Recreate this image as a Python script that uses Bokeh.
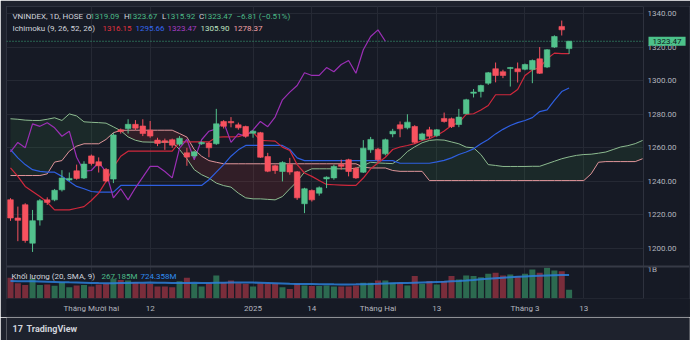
from bokeh.plotting import figure
from bokeh.layouts import column
from bokeh.models import (Range1d, FixedTicker, NumeralTickFormatter, Span, Label,
                          ColumnDataSource, BoxAnnotation)
from bokeh.embed import file_html
from bokeh.resources import INLINE

# ---------------- data ----------------
opens = [1229.1,1218.2,1226.1,1203.2,1217.0,1229.0,1229.0,1235.0,1240.9,1246.3,
         1242.0,1255.2,1251.7,1247.1,1241.4,1270.7,1271.5,1274.0,1273.0,1270.5,
         1264.6,1264.2,1264.8,1262.2,1257.0,1255.2,1262.4,1262.8,1262.4,1275.7,
         1275.7,1273.7,1272.7,1268.7,1269.0,1254.8,1249.3,1245.9,1250.1,1245.7,
         1226.7,1234.6,1233.0,1241.5,1242.1,1250.0,1252.9,1247.9,1245.5,1258.8,
         1259.2,1256.4,1268.3,1273.7,1271.9,1272.7,1265.0,1270.7,1267.3,1277.5,
         1277.3,1273.9,1280.3,1292.5,1293.5,1298.5,1307.1,1305.3,1307.2,1307.1,
         1306.8,1306.6,1313.0,1308.1,1320.0,1332.3,1319.09]
highs = [1230.0,1225.0,1227.0,1223.0,1229.5,1230.5,1235.5,1246.7,1245.3,1250.0,
         1252.0,1256.0,1254.3,1248.0,1269.0,1271.5,1277.0,1276.5,1277.0,1276.0,
         1266.0,1265.5,1265.5,1267.0,1260.0,1258.2,1263.8,1263.5,1283.2,1276.5,
         1278.3,1275.0,1273.2,1270.5,1269.5,1257.0,1250.0,1252.0,1254.0,1246.2,
         1236.2,1235.2,1237.0,1243.0,1250.0,1253.0,1253.5,1248.5,1264.6,1266.5,
         1260.0,1265.5,1271.3,1275.7,1280.0,1273.5,1269.0,1272.5,1271.2,1281.0,
         1278.0,1283.2,1289.2,1295.0,1297.6,1305.2,1310.8,1306.5,1308.2,1310.8,
         1310.2,1312.6,1320.0,1318.8,1327.0,1335.8,1323.67]
lows = [1216.5,1204.4,1203.5,1198.0,1213.7,1226.0,1228.2,1234.0,1240.2,1241.0,
        1241.4,1249.5,1245.3,1239.5,1239.0,1268.5,1268.5,1270.5,1267.0,1266.0,
        1261.0,1258.8,1260.0,1261.0,1249.3,1254.0,1261.8,1254.4,1261.8,1271.5,
        1272.2,1270.8,1266.0,1266.0,1254.0,1245.5,1244.5,1240.0,1244.0,1229.0,
        1221.1,1228.0,1231.5,1236.0,1241.0,1247.0,1243.0,1241.5,1245.0,1257.0,
        1251.5,1255.5,1266.3,1266.3,1271.0,1262.5,1264.2,1265.5,1266.5,1275.0,
        1271.8,1272.3,1280.0,1290.0,1290.0,1297.5,1299.0,1301.5,1296.5,1298.9,
        1306.2,1298.5,1304.0,1307.5,1319.5,1326.9,1315.92]
closes = [1218.2,1216.8,1204.8,1216.6,1228.5,1227.5,1234.7,1242.0,1241.8,1241.8,
          1250.3,1250.7,1249.3,1240.2,1267.7,1269.7,1274.0,1271.7,1268.5,1267.0,
          1262.6,1263.2,1261.6,1265.7,1254.5,1257.6,1263.2,1260.0,1274.3,1272.8,
          1274.9,1271.9,1266.9,1269.9,1254.4,1246.1,1246.5,1251.3,1245.6,1230.2,
          1235.6,1229.0,1236.2,1242.5,1248.9,1249.0,1245.9,1242.1,1259.8,1265.0,
          1252.9,1264.8,1269.9,1271.3,1275.3,1263.3,1268.3,1266.9,1270.7,1275.7,
          1272.6,1278.3,1288.6,1293.2,1297.1,1304.7,1303.1,1303.1,1307.8,1305.3,
          1309.6,1312.0,1304.4,1318.4,1326.3,1330.28,1323.47]
volume_m = [636,472,418,608,418,427,390,499,345,400,
            418,372,427,454,608,572,554,499,472,454,
            372,372,345,527,636,454,372,472,708,499,
            554,472,454,372,472,454,454,345,291,454,
            400,381,381,400,372,372,372,400,481,481,
            554,554,481,481,400,690,454,536,427,536,
            690,581,708,690,654,763,790,708,735,690,
            763,890,790,944,863,835,267.185]
volume_sma_m = [535,533,530,527,522,516,510,503,497,492,
                486,480,474,470,472,476,480,484,488,490,
                488,484,479,476,478,481,478,476,482,488,
                492,494,492,489,485,480,472,464,456,450,
                446,443,440,437,435,434,434,436,440,445,
                452,460,468,474,478,486,494,502,510,518,
                530,542,556,572,590,608,626,642,656,668,
                680,692,702,710,716,722,724.358]
tenkan = [1248,1243,1237,1234,1231,1227.6,1223,1223,1223,1224,
          1225,1228.6,1233,1240,1248.5,1255,1258,1258,1258,1258,
          1258,1258,1258,1263.5,1263.5,1263.5,1263.5,1263.5,1266.3,1266.5,
          1266.5,1266.7,1268,1269.3,1264.4,1264.2,1264,1260.4,1258.4,1250,
          1245,1243,1240.5,1238.2,1238,1237.8,1237.6,1237.6,1242,1247.5,
          1251,1254.4,1259,1260.5,1261.4,1262.5,1264.4,1265.5,1267.3,1270,
          1273.3,1275,1279.9,1280.3,1282.5,1285.2,1291.6,1291.6,1291.6,1294.7,
          1303.1,1306.4,1307.7,1313,1316.4,1316.15,1316.15]
kijun = [1259,1254,1250,1247,1246,1245.5,1245.5,1243,1240,1237,
         1235.6,1234,1233.6,1233.6,1233.6,1237.6,1237.6,1237.6,1237.6,1237.6,
         1237.6,1237.6,1237.6,1237.6,1237.6,1237.6,1237.6,1241,1245.5,1250,
         1255,1258.8,1261.4,1261.4,1261.4,1261.4,1261.4,1261.4,1259,1254,
         1252.4,1252.4,1252.4,1252.4,1252.4,1252.4,1252.4,1252.4,1252.4,1252.4,
         1252.4,1252.4,1252.4,1250.8,1250.8,1250.8,1250.8,1250.8,1251.6,1252.5,
         1254,1256,1257.5,1259.4,1262.4,1265,1268.3,1271,1273.3,1275,
         1276.3,1278,1281.6,1282.6,1288.2,1293.5,1295.66]
chikou = [1257.6,1263.2,1260.0,1274.3,1272.8,1274.9,1271.9,1266.9,1269.9,1254.4,
          1246.1,1246.5,1251.3,1245.6,1230.2,1235.6,1229.0,1236.2,1242.5,1248.9,
          1249.0,1245.9,1242.1,1259.8,1265.0,1252.9,1264.8,1269.9,1271.3,1275.3,
          1263.3,1268.3,1266.9,1270.7,1275.7,1272.6,1278.3,1288.6,1293.2,1297.1,
          1304.7,1303.1,1303.1,1307.8,1305.3,1309.6,1312.0,1304.4,1318.4,1326.3,
          1330.28,1323.47]
span_a = [1277.3,1277,1276.5,1276.3,1276.3,1277,1277.9,1276.3,1280.2,1279,
          1275.5,1275.2,1275,1274.7,1272.5,1270.2,1266.5,1264.5,1263.5,1263.4,
          1263.4,1263.4,1263.4,1259,1253.5,1247,1244,1242,1239,1237.5,
          1236.6,1233,1230.2,1229.6,1229.6,1229.3,1229,1231,1235.6,1240,
          1245.5,1247.5,1247.5,1247.5,1247.5,1247.5,1247.5,1247.8,1249.5,1251.4,
          1251,1250.8,1250.6,1253.5,1257.8,1260.6,1263,1264.4,1264.8,1264.6,
          1263.5,1262.4,1260.4,1260,1256,1250,1249.5,1248.9,1248.9,1248.9,
          1248.9,1249,1249,1250.5,1252,1253.5,1254.6,1255.5,1256,1256.2,
          1256.8,1257.5,1259,1260.5,1261.3,1262.5,1264.4]
span_b = [1243.5,1243.5,1243.5,1243.5,1243.5,1244.5,1251.5,1252.4,1258,1261,
          1262.4,1262.4,1262.4,1265,1269,1270.4,1270.5,1270.5,1270.5,1270.5,
          1270.5,1270.5,1270.5,1268.5,1266.4,1259,1255,1252.4,1251.4,1250.5,
          1250.5,1250.5,1250.5,1250.5,1250.5,1250.5,1250.5,1250.5,1250.5,1250.5,
          1250.5,1250.5,1250.5,1250.5,1250.5,1250.5,1250.5,1250.5,1248.5,1248,
          1248,1248,1246.5,1246,1246,1246,1246,1240.5,1240.5,1240.5,
          1240.5,1240.5,1240.5,1240.5,1240.5,1240.5,1240.5,1240.5,1240.5,1240.5,
          1240.5,1240.5,1240.5,1240.5,1240.5,1240.5,1240.5,1240.5,1240.5,1244.5,
          1251.4,1251.8,1251.8,1251.8,1251.8,1251.8,1253.5]
tick_idx = [11, 19, 33, 41, 50, 58, 70, 78]
tick_text = ["Tháng Mười hai", "12", "2025", "14", "Tháng Hai", "13", "Tháng 3", "13"]
price_ticks = [1200, 1220, 1240, 1260, 1280, 1300, 1320, 1340]
last_close = 1323.47

# ---------------- style ----------------
BG = "#161A25"
OUTER = "#1E222D"
GRID = "#252934"
TXT = "#B2B5BE"
TXT2 = "#D1D4DC"
UP = "#53C28D"
DN = "#F7525F"
VUP = "#2C6A50"
VDN = "#7A2D3B"
FONT = "Roboto"

X0, X1 = -0.544, 92.381      # visible bar-index range (frame 6..689 px)
SCALE_X = 86.12              # price scale starts here (x = 643 px)

n = len(closes)
idx = list(range(n))
up = [c >= o for o, c in zip(opens, closes)]
src = ColumnDataSource(dict(
    x=idx, o=opens, h=highs, l=lows, c=closes,
    top=[max(o, c) for o, c in zip(opens, closes)],
    bot=[min(o, c) for o, c in zip(opens, closes)],
    col=[UP if u else DN for u in up],
    vcol=[VUP if u else VDN for u in up],
    vol=[v * 1e6 for v in volume_m],
    vsma=[v * 1e6 for v in volume_sma_m],
    tenkan=tenkan, kijun=kijun,
))

p = figure(width=690, height=317, output_backend="svg", toolbar_location=None,
           x_range=Range1d(X0, X1), y_range=Range1d(1170.26, 1344.17),
           y_axis_location="right",
           min_border_left=6, min_border_top=6, min_border_right=1, min_border_bottom=19)
p.border_fill_color = OUTER
p.background_fill_color = BG
p.outline_line_color = "#2E323E"
p.extra_y_ranges = {"vol": Range1d(0, 8.985e9)}

# grids
p.xgrid.ticker = FixedTicker(ticks=tick_idx)
p.ygrid.ticker = FixedTicker(ticks=price_ticks)
p.xgrid.grid_line_color = GRID
p.ygrid.grid_line_color = GRID

# axes
xa = p.xaxis[0]
xa.ticker = FixedTicker(ticks=tick_idx)
xa.major_label_overrides = {t: s for t, s in zip(tick_idx, tick_text)}
ya = p.yaxis[0]
ya.ticker = FixedTicker(ticks=price_ticks)
ya.formatter = NumeralTickFormatter(format="0.00")
ya.fixed_location = SCALE_X
for ax in (xa, ya):
    ax.axis_line_color = None
    ax.major_tick_line_color = None
    ax.minor_tick_line_color = None
    ax.major_tick_out = 0
    ax.major_tick_in = 0
    ax.major_label_text_font_size = "8px"
    ax.major_label_text_color = TXT
    ax.major_label_text_font = FONT
    if "background_fill_color" in ax.properties():
        ax.background_fill_color = BG
ya.axis_line_color = "#2E323E"
xa.major_label_standoff = 5
ya.major_label_standoff = 4

# last price dotted line (under the price-scale cover)
p.add_layout(Span(location=last_close, dimension="width", line_color="#3FAF7E",
                  line_dash="1 2", line_width=1, level="underlay"))
# price-scale area: plain background, no grid
p.add_layout(BoxAnnotation(left=SCALE_X, fill_color=BG, fill_alpha=1.0,
                           line_color=None, level="underlay"))

# cloud fills
xs_c = list(range(len(span_a)))
hi = [max(a, b) for a, b in zip(span_a, span_b)]
p.varea(x=xs_c, y1=span_b, y2=hi, fill_color="#43A047", fill_alpha=0.12)
p.varea(x=xs_c, y1=span_a, y2=hi, fill_color="#F44336", fill_alpha=0.12)
p.line(xs_c, span_a, line_color="#8DBB90", line_width=1)
p.line(xs_c, span_b, line_color="#E0959A", line_width=1)

# volume
p.vbar(x="x", top="vol", bottom=0, width=0.82, fill_color="vcol", line_color=None,
       source=src, y_range_name="vol")
p.line("x", "vsma", source=src, y_range_name="vol", line_color="#2B7FD9",
       line_width=2, line_alpha=0.85)

# ichimoku lines
p.line("x", "kijun", source=src, line_color="#2E5FE0", line_width=1.2)
p.line("x", "tenkan", source=src, line_color="#D0283C", line_width=1.2)
p.line(list(range(len(chikou))), chikou, line_color="#9B2FB5", line_width=1.2)

# candles
p.segment(x0="x", x1="x", y0="l", y1="h", line_color="col", line_width=1, source=src)
p.vbar(x="x", top="top", bottom="bot", width=0.76, fill_color="col", line_color="col",
       line_width=0.6, source=src)

# ---------------- texts ----------------
FX, FB = 6, 298   # frame left / bottom on the canvas


def lab(fig, text, sx, sy, color, size="8px", style="normal", **kw):
    l = Label(x=sx, y=sy, x_units="screen", y_units="screen", text=text,
              text_font=FONT, text_font_size=size, text_color=color,
              text_baseline="middle", text_align="left", text_font_style=style, **kw)
    fig.add_layout(l)
    return l


def plab(text, cx, cy, color, **kw):
    return lab(p, text, cx - FX, FB - cy, color, **kw)


GV = "#4CBB87"
plab("VNINDEX, 1D, HOSE", 12, 16, TXT2)
for letter, val, x0 in [("O", "1319.09", 85.5), ("H", "1323.67", 123.5),
                        ("L", "1315.92", 161.5), ("C", "1323.47", 198.5)]:
    plab(letter, x0, 16, TXT2)
    plab(val, x0 + 4.2, 16, GV)
plab("−6.81 (−0.51%)", 236, 16, GV)

plab("Ichimoku (9, 26, 52, 26)", 12, 27.5, TXT2)
plab("1316.15", 102, 27.5, "#E0323F")
plab("1295.66", 135, 27.5, "#3568F0")
plab("1323.47", 167, 27.5, "#A63CC4")
plab("1305.90", 200, 27.5, "#BFE3C1")
plab("1278.37", 233, 27.5, "#F2A3A8")

plab("Khối lượng (20, SMA, 9)", 11, 275.5, TXT2)
plab("267.185M", 101, 275.5, GV)
plab("724.358M", 140, 275.5, "#2F8BF0")

plab("1B", 647, 268.5, TXT)
# volume pane separator (drawn above the "1B" label)
p.add_layout(Span(location=1189.3, dimension="width", line_color="#363A46", line_width=2))

pl = plab("1323.47", 648, 40.7, "#10141C", background_fill_color="#4CC28A")
if "padding" in Label.properties():
    try:
        pl.padding = (4, 2)
    except Exception:
        pl.padding = 2

# ---------------- bottom brand strip ----------------
p2 = figure(width=690, height=23, output_backend="svg", toolbar_location=None,
            x_range=Range1d(0, 690), y_range=Range1d(0, 23),
            min_border_left=0, min_border_right=0, min_border_top=0, min_border_bottom=0)
p2.axis.visible = False
p2.grid.visible = False
p2.outline_line_color = None
p2.background_fill_color = OUTER
p2.border_fill_color = OUTER
lab(p2, "17", 6, 12, TXT2, size="9px", style="bold")
lab(p2, "TradingView", 20, 12, TXT2, size="9px", style="bold")

layout = column(p, p2, spacing=0)
open("out.html", "w").write(file_html(layout, INLINE))
